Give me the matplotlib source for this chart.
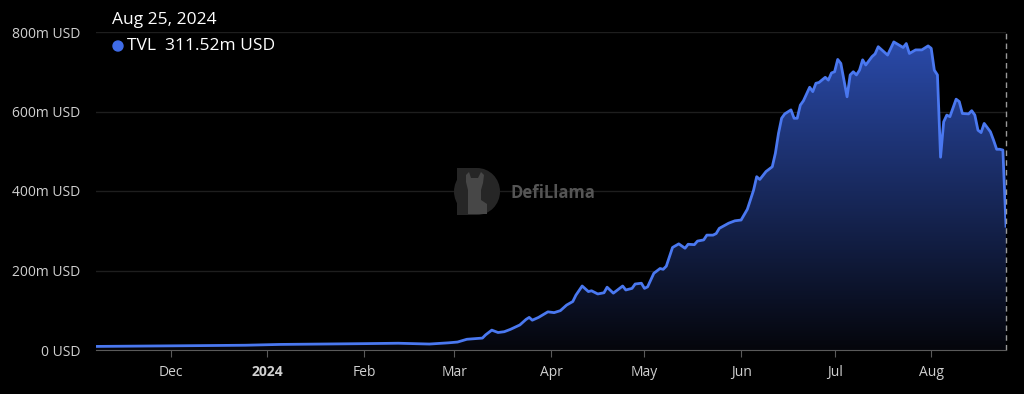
import pandas as pd
import matplotlib.pyplot as plt
import matplotlib.dates as mdates
import numpy as np
from matplotlib.colors import LinearSegmentedColormap
from matplotlib.patches import Rectangle, Ellipse, Polygon

plt.rcParams['font.family'] = ['Open Sans', 'DejaVu Sans']

# TVL in millions of USD
dates = [
    "2023-11-07", "2023-11-25", "2023-12-10", "2023-12-25", "2024-01-05", "2024-01-20",
    "2024-02-01", "2024-02-12", "2024-02-22", "2024-02-28", "2024-03-02", "2024-03-05",
    "2024-03-10", "2024-03-11", "2024-03-13", "2024-03-15", "2024-03-17", "2024-03-19",
    "2024-03-22", "2024-03-24", "2024-03-25", "2024-03-26", "2024-03-28", "2024-03-31",
    "2024-04-02", "2024-04-04", "2024-04-06", "2024-04-08", "2024-04-09", "2024-04-11",
    "2024-04-13", "2024-04-14", "2024-04-16", "2024-04-18", "2024-04-19", "2024-04-21",
    "2024-04-22", "2024-04-24", "2024-04-25", "2024-04-27", "2024-04-28", "2024-04-30",
    "2024-05-01", "2024-05-02", "2024-05-04", "2024-05-06", "2024-05-07", "2024-05-08",
    "2024-05-10", "2024-05-12", "2024-05-14", "2024-05-15", "2024-05-17", "2024-05-18",
    "2024-05-20", "2024-05-21", "2024-05-23", "2024-05-24", "2024-05-25", "2024-05-28",
    "2024-05-30", "2024-06-01", "2024-06-03", "2024-06-05", "2024-06-06", "2024-06-07",
    "2024-06-09", "2024-06-11", "2024-06-12", "2024-06-13", "2024-06-14", "2024-06-15",
    "2024-06-17", "2024-06-18", "2024-06-19", "2024-06-20", "2024-06-21", "2024-06-23",
    "2024-06-24", "2024-06-25", "2024-06-26", "2024-06-28", "2024-06-29", "2024-06-30",
    "2024-07-01", "2024-07-02", "2024-07-03", "2024-07-04", "2024-07-05", "2024-07-06",
    "2024-07-07", "2024-07-08", "2024-07-09", "2024-07-10", "2024-07-11", "2024-07-13",
    "2024-07-14", "2024-07-15", "2024-07-18", "2024-07-20", "2024-07-23", "2024-07-24",
    "2024-07-25", "2024-07-27", "2024-07-29", "2024-07-31", "2024-08-01", "2024-08-02",
    "2024-08-03", "2024-08-04", "2024-08-05", "2024-08-06", "2024-08-07", "2024-08-09",
    "2024-08-10", "2024-08-11", "2024-08-13", "2024-08-14", "2024-08-15", "2024-08-16",
    "2024-08-17", "2024-08-18", "2024-08-20", "2024-08-21", "2024-08-22", "2024-08-23",
    "2024-08-24", "2024-08-25",
]
tvl = [
    9, 10, 11, 12, 14, 15,
    16, 17, 15, 18, 20, 27,
    30, 38, 50, 44, 46, 52,
    63, 77, 82, 75, 82, 96,
    94, 99, 113, 122, 138, 161,
    147, 149, 141, 144, 158, 143,
    149, 161, 151, 155, 166, 168,
    155, 159, 193, 205, 203, 211,
    258, 267, 256, 266, 265, 274,
    277, 289, 289, 293, 306, 319,
    325, 327, 354, 402, 436, 429,
    449, 461, 495, 545, 583, 594,
    604, 583, 583, 616, 627, 661,
    650, 671, 673, 686, 679, 697,
    700, 731, 721, 679, 637, 692,
    700, 692, 704, 730, 717, 738,
    745, 763, 742, 775, 761, 771,
    746, 755, 755, 765, 759, 704,
    692, 485, 574, 591, 587, 631,
    625, 595, 594, 602, 591, 553,
    547, 570, 549, 528, 505, 505,
    503, 311.52,
]
yticks = [0, 200, 400, 600, 800]
ylabels = ["0 USD", "200m USD", "400m USD", "600m USD", "800m USD"]
month_ticks = ["2023-12-01", "2024-01-01", "2024-02-01", "2024-03-01", "2024-04-01",
               "2024-05-01", "2024-06-01", "2024-07-01", "2024-08-01"]
month_labels = ["Dec", "2024", "Feb", "Mar", "Apr", "May", "Jun", "Jul", "Aug"]

x = mdates.date2num(pd.to_datetime(dates))
xt = mdates.date2num(pd.to_datetime(month_ticks))

fig = plt.figure(figsize=(10.24, 3.94), dpi=100, facecolor='black')

ax = fig.add_axes([96 / 1024, 1 - 350 / 394, 910 / 1024, 318 / 394], zorder=1)
ax.set_facecolor('black')
ax.set_xlim(x[0], x[-1])
ax.set_ylim(0, 800)

# overlay in pixel coordinates for header and watermark
ov = fig.add_axes([0, 0, 1, 1], zorder=2)
ov.set_xlim(0, 1024)
ov.set_ylim(394, 0)
ov.axis('off')

# gradient fill under the line
cmap = LinearSegmentedColormap.from_list('g', ['#05060c', '#2b4cae'])
grad = np.linspace(0, 1, 256).reshape(-1, 1)
img = ax.imshow(grad, cmap=cmap, aspect='auto', origin='lower',
                extent=[x[0], x[-1], 0, 800], zorder=1)
poly = ax.fill_between(x, tvl, 0, color='none')
img.set_clip_path(poly.get_paths()[0], transform=ax.transData)

ax.plot(x, tvl, color='#4a78f0', lw=2, zorder=3, solid_joinstyle='round')

# hover line
ax.axvline(x[-1], color='#9a9a9a', lw=1, ls=(0, (4, 3)), zorder=4, clip_on=False)

for s in ['top', 'right', 'left']:
    ax.spines[s].set_visible(False)
ax.spines['bottom'].set_color('#5a5a5a')
ax.spines['bottom'].set_zorder(5)

ax.set_yticks(yticks)
ax.set_yticklabels(ylabels)
ax.yaxis.grid(True, color='#1e1e1e', lw=1)
ax.set_axisbelow(True)
ax.tick_params(axis='y', length=0, pad=11, labelsize=10, labelcolor='#d0d0d0')

ax.set_xticks(xt)
ax.set_xticklabels(month_labels)
ax.tick_params(axis='x', length=5, color='#5a5a5a', pad=6, labelsize=10, labelcolor='#d0d0d0')
for lbl in ax.get_xticklabels():
    if lbl.get_text() == "2024":
        lbl.set_fontweight('bold')

# header
ov.text(112, 20, "Aug 25, 2024", color='white', fontsize=12.5, va='center')
ov.add_patch(Ellipse((118, 46), 10, 10, color='#3f6ce8'))
ov.text(127, 46, "TVL  311.52m USD", color='white', fontsize=12.5, va='center')

# watermark logo (D shape with llama) and name
ov.add_patch(Rectangle((457, 168), 20, 47, color='#262626', lw=0))
ov.add_patch(Ellipse((477, 191.5), 46, 47, color='#262626', lw=0))
ov.add_patch(Polygon([(468, 214), (468, 190), (466, 182), (466, 175), (469, 172),
                      (471, 178), (478, 178), (481, 172), (484, 175), (483, 183),
                      (481, 190), (481, 200), (487, 204), (487, 214)],
                     closed=True, color='#474747', lw=0))
ov.text(510, 193, "DefiLlama", color='#555555', fontsize=12, fontweight='bold', va='center')

fig.savefig('out.png', dpi=100, facecolor='black')
